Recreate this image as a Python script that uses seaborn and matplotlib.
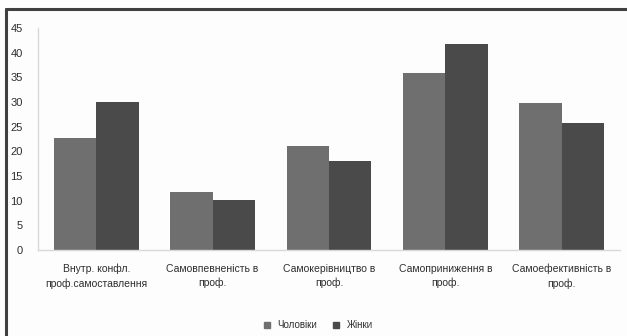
import matplotlib
matplotlib.use("Agg")
import matplotlib.pyplot as plt
import seaborn as sns
import pandas as pd
from matplotlib.lines import Line2D

categories = [
    "Внутр. конфл.\nпроф.самоставлення",
    "Самовпевненість в\nпроф.",
    "Самокерівництво в\nпроф.",
    "Самоприниження в\nпроф.",
    "Самоефективність в\nпроф.",
]
series_names = ["Чоловіки", "Жінки"]
men = [22.7, 11.7, 21.1, 35.8, 29.8]
women = [30.1, 10.1, 18.1, 41.8, 25.8]
y_ticks = [0, 5, 10, 15, 20, 25, 30, 35, 40, 45]

df = pd.DataFrame({
    "category": categories * 2,
    "group": [series_names[0]] * len(categories) + [series_names[1]] * len(categories),
    "value": men + women,
})

sns.set_theme(style="white")
plt.rcParams["font.family"] = ["Liberation Sans Narrow", "Liberation Sans", "DejaVu Sans"]

fig = plt.figure(figsize=(6.27, 3.36), dpi=100)
fig.patch.set_facecolor("#fdfdfd")
ax = fig.add_axes([38 / 627, 1 - 250 / 336, (620 - 38) / 627, (250 - 28) / 336])
ax.set_facecolor("#fdfdfd")

colors = ["#6f6f6f", "#4a4a4a"]
sns.barplot(data=df, x="category", y="value", hue="group", palette=colors,
            width=0.73, gap=0, ax=ax, legend=False, saturation=1, linewidth=0)

ax.set_ylim(0, 45)
ax.set_yticks(y_ticks)
ax.set_yticklabels([str(t) for t in y_ticks], fontsize=8, color="#2e2e2e")
ax.set_xlabel("")
ax.set_ylabel("")
ax.tick_params(axis="x", labelsize=7.5, colors="#2e2e2e", pad=10, length=0)
ax.tick_params(axis="y", length=0, pad=11)
for lbl in ax.get_xticklabels():
    lbl.set_linespacing(1.45)
for side in ["top", "right"]:
    ax.spines[side].set_visible(False)
ax.spines["left"].set_color("#d8d8d8")
ax.spines["bottom"].set_color("#d8d8d8")
ax.spines["left"].set_linewidth(1.0)
ax.spines["bottom"].set_linewidth(1.0)

handles = [Line2D([], [], marker="s", linestyle="none", markersize=4.5,
                  markerfacecolor=c, markeredgecolor=c) for c in colors]
fig.legend(handles, series_names, loc="center", bbox_to_anchor=(315 / 627, 1 - 325 / 336),
           ncol=2, frameon=False, fontsize=7, handletextpad=0.1, columnspacing=1.0,
           labelcolor="#2e2e2e")

# outer frame
fig.add_artist(Line2D([6 / 627, 1.0], [1 - 8.5 / 336, 1 - 8.5 / 336], transform=fig.transFigure,
                      color="#404040", linewidth=2.2))
fig.add_artist(Line2D([6 / 627, 6 / 627], [0, 1 - 8.5 / 336], transform=fig.transFigure,
                      color="#404040", linewidth=2.2))

fig.savefig("out.png", dpi=100, facecolor=fig.get_facecolor())
